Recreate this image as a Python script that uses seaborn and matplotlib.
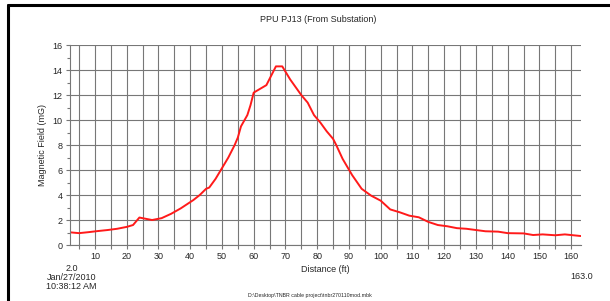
import matplotlib
matplotlib.use("Agg")
import matplotlib.pyplot as plt
import seaborn as sns
import pandas as pd
from matplotlib.lines import Line2D
from matplotlib.ticker import MultipleLocator

distance = [2, 5, 8, 11, 14, 17, 20, 22, 24, 26, 28, 31, 34, 37, 41, 43, 45, 46, 48,
            50, 52, 54, 55, 56, 58, 59, 60, 62, 64, 65, 67, 69, 71.5, 75, 77, 79, 81,
            83, 85, 86, 88, 91, 94, 97, 100, 103, 106, 109, 112, 115, 118, 121, 124,
            127, 130, 133, 137, 140, 145, 148, 151, 155, 158, 163]
field = [1.02, 0.95, 1.03, 1.12, 1.2, 1.3, 1.45, 1.6, 2.2, 2.1, 2.0, 2.15, 2.5, 2.93, 3.6,
         4.0, 4.5, 4.6, 5.3, 6.15, 7.0, 8.0, 8.6, 9.5, 10.4, 11.2, 12.2, 12.5, 12.8, 13.3,
         14.3, 14.3, 13.25, 12.0, 11.4, 10.4, 9.8, 9.1, 8.5, 8.0, 6.9, 5.6, 4.5, 3.95,
         3.55, 2.85, 2.62, 2.35, 2.22, 1.85, 1.6, 1.5, 1.35, 1.3, 1.2, 1.1, 1.07, 0.95,
         0.93, 0.8, 0.85, 0.78, 0.85, 0.72]

df = pd.DataFrame({"Distance": distance, "Field": field})

sns.set_style("white")
plt.rcParams["font.family"] = ["Liberation Sans", "DejaVu Sans"]

fig = plt.figure(figsize=(6.1, 3.01), dpi=100)
ax = fig.add_axes([0.114, 0.186, 0.838, 0.664])

sns.lineplot(data=df, x="Distance", y="Field", ax=ax, color="#ff1a1a", linewidth=1.4)

grid_col = "#777777"
ax.set_xlim(2, 163)
ax.set_ylim(0, 16)
ax.xaxis.set_major_locator(MultipleLocator(10))
ax.xaxis.set_minor_locator(MultipleLocator(5))
ax.yaxis.set_major_locator(MultipleLocator(2))
ax.yaxis.set_minor_locator(MultipleLocator(1))
ax.grid(True, which="major", axis="both", color=grid_col, linewidth=0.8)
ax.grid(True, which="minor", axis="x", color=grid_col, linewidth=0.8)
ax.tick_params(axis="both", which="major", labelsize=6.5, length=3, width=0.8,
               color=grid_col, pad=2, bottom=True, left=True)
ax.tick_params(axis="y", which="minor", length=2, width=0.8, color=grid_col, left=True)
ax.tick_params(axis="x", which="minor", length=3, width=0.8, color=grid_col, bottom=True)
for s in ["top", "right"]:
    ax.spines[s].set_visible(False)
for s in ["left", "bottom"]:
    ax.spines[s].set_color(grid_col)
    ax.spines[s].set_linewidth(0.8)

ax.set_xlabel("Distance (ft)", fontsize=6.5, labelpad=3)
ax.set_ylabel("Magnetic Field (mG)", fontsize=6.5, labelpad=4)
fig.text(0.521, 0.935, "PPU PJ13 (From Substation)", ha="center", va="center", fontsize=6.5)

fig.text(0.117, 0.078, "2.0\nJan/27/2010\n10:38:12 AM", ha="center", va="center",
         fontsize=6.5, linespacing=1.05)
fig.text(0.953, 0.08, "163.0", ha="center", va="center", fontsize=6.5)
fig.text(0.508, 0.017, "D:\\Desktop\\TNBR cable project\\tnbr270110mod.mbk",
         ha="center", va="center", fontsize=3.8)

fig.add_artist(Line2D([0.013, 0.013], [0.0, 0.982], color="black", linewidth=2.2,
                      transform=fig.transFigure))
fig.add_artist(Line2D([0.013, 1.0], [0.982, 0.982], color="black", linewidth=2.2,
                      transform=fig.transFigure))

fig.savefig("out.png", dpi=100)
